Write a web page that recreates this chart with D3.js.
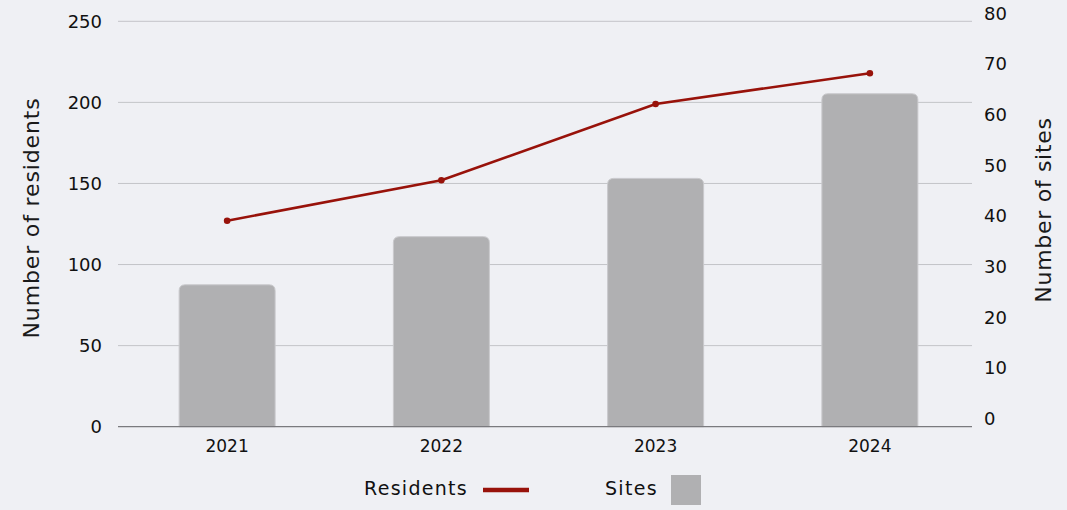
<!DOCTYPE html>
<html><head><meta charset="utf-8">
<script src="https://cdn.jsdelivr.net/npm/d3@7"></script>
<style>
html,body{margin:0;padding:0;background:#eff0f4;}
svg{display:block;font-family:"DejaVu Sans",sans-serif;}
</style></head>
<body>
<svg id="chart" width="1067" height="510"></svg>
<script>
const years = ["2021","2022","2023","2024"];
const residents = [127, 152, 199, 218];
const sites = [28, 37.5, 49, 65.7];
const leftTicks = [0, 50, 100, 150, 200, 250];
const rightTicks = [0, 10, 20, 30, 40, 50, 60, 70, 80];

const svg = d3.select("#chart");
const W = 1067, H = 510;
svg.append("rect").attr("width", W).attr("height", H).attr("fill", "#eff0f4");

const plotL = 118, plotR = 972, plotTop = 21.3, plotBottom = 426.7;
const x = d3.scaleBand().domain(years).range([120, 977]).paddingInner(0.552).paddingOuter(0.276);
const yL = d3.scaleLinear().domain([0, 250]).range([plotBottom, plotTop]);
const yR = d3.scaleLinear().domain([0, 80]).range([plotBottom, plotTop]);

// gridlines
svg.append("g").selectAll("line").data(leftTicks.filter(d => d > 0)).join("line")
  .attr("x1", plotL).attr("x2", plotR)
  .attr("y1", d => yL(d)).attr("y2", d => yL(d))
  .attr("stroke", "#c3c4c8").attr("stroke-width", 1);

// bars with rounded top corners
const r = 6;
svg.append("g").selectAll("path").data(years).join("path")
  .attr("d", (d, i) => {
    const x0 = x(d), x1 = x0 + x.bandwidth(), y0 = yR(sites[i]), yb = yR(0);
    return `M${x0},${yb}V${y0 + r}Q${x0},${y0} ${x0 + r},${y0}H${x1 - r}Q${x1},${y0} ${x1},${y0 + r}V${yb}Z`;
  })
  .attr("fill", "#b0b0b2").attr("stroke", "#c9c9cc").attr("stroke-width", 1);

// baseline
svg.append("line").attr("x1", plotL).attr("x2", plotR)
  .attr("y1", yL(0)).attr("y2", yL(0)).attr("stroke", "#7a7a7e").attr("stroke-width", 1.2);

// line
const cx = d => x(d) + x.bandwidth() / 2;
const line = d3.line().x((d, i) => cx(years[i])).y(d => yL(d));
svg.append("path").datum(residents).attr("d", line)
  .attr("fill", "none").attr("stroke", "#98120a").attr("stroke-width", 2.6);
svg.append("g").selectAll("circle").data(residents).join("circle")
  .attr("cx", (d, i) => cx(years[i])).attr("cy", d => yL(d)).attr("r", 3.3)
  .attr("fill", "#98120a");

// left axis labels
svg.append("g").selectAll("text").data(leftTicks).join("text")
  .attr("x", 102).attr("y", d => yL(d)).attr("dy", "0.35em")
  .attr("text-anchor", "end").attr("font-size", 18).attr("fill", "#111")
  .text(d => d);

// right axis labels (offset upward as in reference)
svg.append("g").selectAll("text").data(rightTicks).join("text")
  .attr("x", 984).attr("y", d => yR(d) - 8).attr("dy", "0.35em")
  .attr("text-anchor", "start").attr("font-size", 18).attr("fill", "#111")
  .text(d => d);

// x labels
svg.append("g").selectAll("text").data(years).join("text")
  .attr("x", d => cx(d)).attr("y", 446).attr("dy", "0.35em")
  .attr("text-anchor", "middle").attr("font-size", 17).attr("fill", "#111")
  .text(d => d);

// axis titles
svg.append("text").attr("transform", "translate(31,218) rotate(-90)")
  .attr("text-anchor", "middle").attr("dy", "0.35em").attr("letter-spacing", 0.85)
  .attr("font-size", 22).attr("fill", "#1a1a1a").text("Number of residents");
svg.append("text").attr("transform", "translate(1043,210) rotate(-90)")
  .attr("text-anchor", "middle").attr("dy", "0.35em").attr("letter-spacing", 0.7)
  .attr("font-size", 22).attr("fill", "#1a1a1a").text("Number of sites");

// legend
const lg = svg.append("g");
lg.append("text").attr("x", 364).attr("y", 488).attr("dy", "0.35em").attr("letter-spacing", 1.3)
  .attr("font-size", 19).attr("fill", "#111").text("Residents");
lg.append("line").attr("x1", 483).attr("x2", 529).attr("y1", 490).attr("y2", 490)
  .attr("stroke", "#98120a").attr("stroke-width", 4.5);
lg.append("text").attr("x", 605).attr("y", 488).attr("dy", "0.35em").attr("letter-spacing", 1.3)
  .attr("font-size", 19).attr("fill", "#111").text("Sites");
lg.append("rect").attr("x", 671).attr("y", 475).attr("width", 30).attr("height", 30)
  .attr("fill", "#b0b0b2");
</script>
</body></html>
